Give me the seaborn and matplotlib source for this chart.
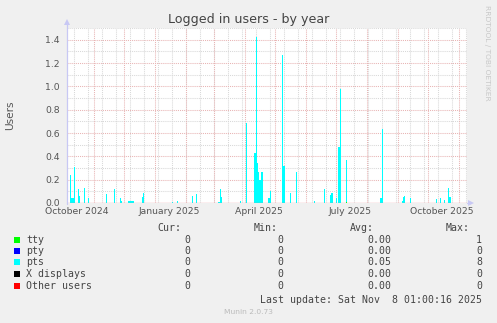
import numpy as np
import pandas as pd
import matplotlib
matplotlib.use("Agg")
import matplotlib.pyplot as plt
from matplotlib.patches import Rectangle, Polygon
import seaborn as sns

# ---------------- data ----------------
series_names = ["tty", "pty", "pts", "X displays", "Other users"]
series_colors = ["#00FF00", "#0000FF", "#00FFFF", "#000000", "#FF0000"]

pts_dates = ["2024-10-08", "2024-10-09", "2024-10-10", "2024-10-11", "2024-10-12",
             "2024-10-16", "2024-10-17", "2024-10-22", "2024-10-26", "2024-11-13",
             "2024-11-21", "2024-11-27", "2024-11-28", "2024-12-05", "2024-12-06",
             "2024-12-07", "2024-12-08", "2024-12-09", "2024-12-10", "2024-12-19",
             "2024-12-20", "2025-01-18", "2025-01-23", "2025-02-07", "2025-02-11",
             "2025-03-05", "2025-03-06", "2025-03-07", "2025-03-08", "2025-03-27",
             "2025-04-02", "2025-04-10", "2025-04-11", "2025-04-12", "2025-04-13",
             "2025-04-14", "2025-04-15", "2025-04-16", "2025-04-17", "2025-04-18",
             "2025-04-24", "2025-04-25", "2025-04-26", "2025-05-08", "2025-05-09",
             "2025-05-10", "2025-05-16", "2025-05-22", "2025-06-09", "2025-06-19",
             "2025-06-25", "2025-06-26", "2025-06-27", "2025-07-01", "2025-07-03",
             "2025-07-04", "2025-07-05", "2025-07-11", "2025-08-14", "2025-08-15",
             "2025-08-16", "2025-09-05", "2025-09-06", "2025-09-07", "2025-09-13",
             "2025-10-09", "2025-10-13", "2025-10-17", "2025-10-21", "2025-10-22",
             "2025-10-23"]
pts_values = [0.24, 0.04, 0.04, 0.04, 0.31,
              0.12, 0.06, 0.13, 0.045, 0.077,
              0.12, 0.043, 0.015, 0.017, 0.017,
              0.017, 0.017, 0.017, 0.017, 0.055,
              0.083, 0.01, 0.017, 0.063, 0.077,
              0.01, 0.01, 0.12, 0.05, 0.017,
              0.683, 0.43, 0.43, 1.42, 0.34,
              0.27, 0.2, 0.2, 0.27, 0.27,
              0.04, 0.04, 0.103, 1.27, 0.317,
              0.317, 0.088, 0.27, 0.017, 0.12,
              0.068, 0.083, 0.083, 0.045, 0.48,
              0.48, 0.977, 0.36, 0.045, 0.045,
              0.634, 0.015, 0.049, 0.06, 0.045,
              0.035, 0.045, 0.026, 0.125, 0.054,
              0.054]
tty_dates = ["2025-07-11"]
tty_values = [0.012]
pty_dates, pty_values = [], []
x_dates, x_values = [], []
other_dates, other_values = [], []

start_date = "2024-10-05"
end_date = "2025-11-09"

label_dates = ["2024-10-15", "2025-01-15", "2025-04-15", "2025-07-15", "2025-10-15"]
label_texts = ["October 2024", "January 2025", "April 2025", "July 2025", "October 2025"]
y_ticks = [0.0, 0.2, 0.4, 0.6, 0.8, 1.0, 1.2, 1.4]

cur_vals = ["0", "0", "0", "0", "0"]
min_vals = ["0", "0", "0", "0", "0"]
avg_vals = ["0.00", "0.00", "0.05", "0.00", "0.00"]
max_vals = ["1", "0", "8", "0", "0"]

title = "Logged in users - by year"
ylabel = "Users"
last_update = "Last update: Sat Nov  8 01:00:16 2025"
watermark = "RRDTOOL / TOBI OETIKER"
footer = "Munin 2.0.73"

# ---------------- style ----------------
sns.set_style("white")
plt.rcParams["font.family"] = ["DejaVu Sans"]

W, H = 497, 323
fig = plt.figure(figsize=(W / 100, H / 100), dpi=100)
fig.patch.set_facecolor("#F0F0F0")

def fx(x):
    return x / W

def fy(y):
    return 1 - y / H

L, T, R, B = 67, 28, 467, 203
ax = fig.add_axes([fx(L), fy(B), (R - L) / W, (B - T) / H])
ax.set_facecolor("white")

t0 = pd.Timestamp(start_date)
t1 = pd.Timestamp(end_date)
ax.set_xlim(t0, t1)
ax.set_ylim(0, 1.5)

# grid
minor_col = "#D8D8D8"
major_col = "#E8B4B4"
dot = (0, (1, 1))
for v in np.arange(0.1, 1.51, 0.2):
    ax.axhline(v, color=minor_col, lw=0.75, ls=dot, zorder=1)
for d in pd.date_range("2024-10-12", t1, freq="14D"):
    ax.axvline(d, color=minor_col, lw=0.75, ls=dot, zorder=1)
for v in y_ticks[1:]:
    ax.axhline(v, color=major_col, lw=0.75, ls=dot, zorder=1.5)
for d in pd.date_range("2024-11-01", t1, freq="MS"):
    ax.axvline(d, color=major_col, lw=0.75, ls=dot, zorder=1.5)

# stacked daily bars
days = pd.date_range(t0, t1, freq="D")
df = pd.DataFrame(0.0, index=days, columns=series_names)
for name, dts, vals in [("tty", tty_dates, tty_values), ("pty", pty_dates, pty_values),
                        ("pts", pts_dates, pts_values), ("X displays", x_dates, x_values),
                        ("Other users", other_dates, other_values)]:
    for d, v in zip(dts, vals):
        df.loc[pd.Timestamp(d), name] = v
bottom = np.zeros(len(df))
for name, col in zip(series_names, series_colors):
    vals = df[name].values
    mask = vals > 0
    if mask.any():
        ax.bar(df.index[mask], vals[mask], width=1.0, bottom=bottom[mask], align="edge",
               color=col, linewidth=0, antialiased=False, zorder=3)
    bottom = bottom + vals

# axes lines
for s in ax.spines.values():
    s.set_visible(False)
ax.axhline(0, color="#E07A84", lw=0.9, zorder=4)

ax.set_xticks(pd.to_datetime(label_dates))
ax.set_xticklabels(label_texts)
ax.set_yticks(y_ticks)
ax.set_yticklabels([f"{v:.1f}" for v in y_ticks])
ax.tick_params(axis="x", length=0, pad=3.2, labelsize=6.7, labelcolor="#555555")
ax.tick_params(axis="y", length=0, pad=5.0, labelsize=6.7, labelcolor="#555555")

# axis arrows (lavender)
axis_col = "#C8C8F4"
fig.add_artist(plt.Line2D([fx(L), fx(L)], [fy(B + 1), fy(24)], color=axis_col, lw=0.9))
fig.add_artist(plt.Line2D([fx(R), fx(470)], [fy(B), fy(B)], color=axis_col, lw=0.9))
fig.add_artist(Polygon([[fx(L - 3), fy(25)], [fx(L + 3), fy(25)], [fx(L), fy(19)]],
                       closed=True, color=axis_col, lw=0))
fig.add_artist(Polygon([[fx(468), fy(B - 3)], [fx(468), fy(B + 3)], [fx(474), fy(B)]],
                       closed=True, color=axis_col, lw=0))

# texts
fig.text(0.5, fy(20), title, ha="center", va="center", fontsize=9.1, color="#444444")
fig.text(fx(10), fy(115), ylabel, ha="center", va="center", rotation=90,
         fontsize=7.6, color="#555555")
fig.text(fx(487), fy(5), watermark, ha="center", va="top", rotation=270,
         fontsize=5.4, color="#C8C8C8")

mono = "DejaVu Sans Mono"
fs = 7.1
tc = "#444444"
fig.text(fx(181), fy(228), "Cur:", ha="right", va="center", family=mono, fontsize=fs, color=tc)
fig.text(fx(278), fy(228), "Min:", ha="right", va="center", family=mono, fontsize=fs, color=tc)
fig.text(fx(374), fy(228), "Avg:", ha="right", va="center", family=mono, fontsize=fs, color=tc)
fig.text(fx(470), fy(228), "Max:", ha="right", va="center", family=mono, fontsize=fs, color=tc)
row_y = [239.7, 251, 262.3, 274, 285.7]
for i, name in enumerate(series_names):
    y = row_y[i]
    fig.add_artist(Rectangle((fx(14), fy(y + 3)), 6 / W, 6 / H, transform=fig.transFigure,
                             color=series_colors[i], lw=0))
    fig.text(fx(26), fy(y), name, ha="left", va="center", family=mono, fontsize=fs, color=tc)
    fig.text(fx(190), fy(y), cur_vals[i], ha="right", va="center", family=mono, fontsize=fs, color=tc)
    fig.text(fx(283), fy(y), min_vals[i], ha="right", va="center", family=mono, fontsize=fs, color=tc)
    fig.text(fx(391), fy(y), avg_vals[i], ha="right", va="center", family=mono, fontsize=fs, color=tc)
    fig.text(fx(482), fy(y), max_vals[i], ha="right", va="center", family=mono, fontsize=fs, color=tc)
fig.text(fx(482), fy(299.7), last_update, ha="right", va="center", family=mono, fontsize=fs, color=tc)
fig.text(fx(248), fy(312), footer, ha="center", va="center", fontsize=5.4, color="#BBBBBB")

fig.savefig("out.png", dpi=100, facecolor=fig.get_facecolor())
